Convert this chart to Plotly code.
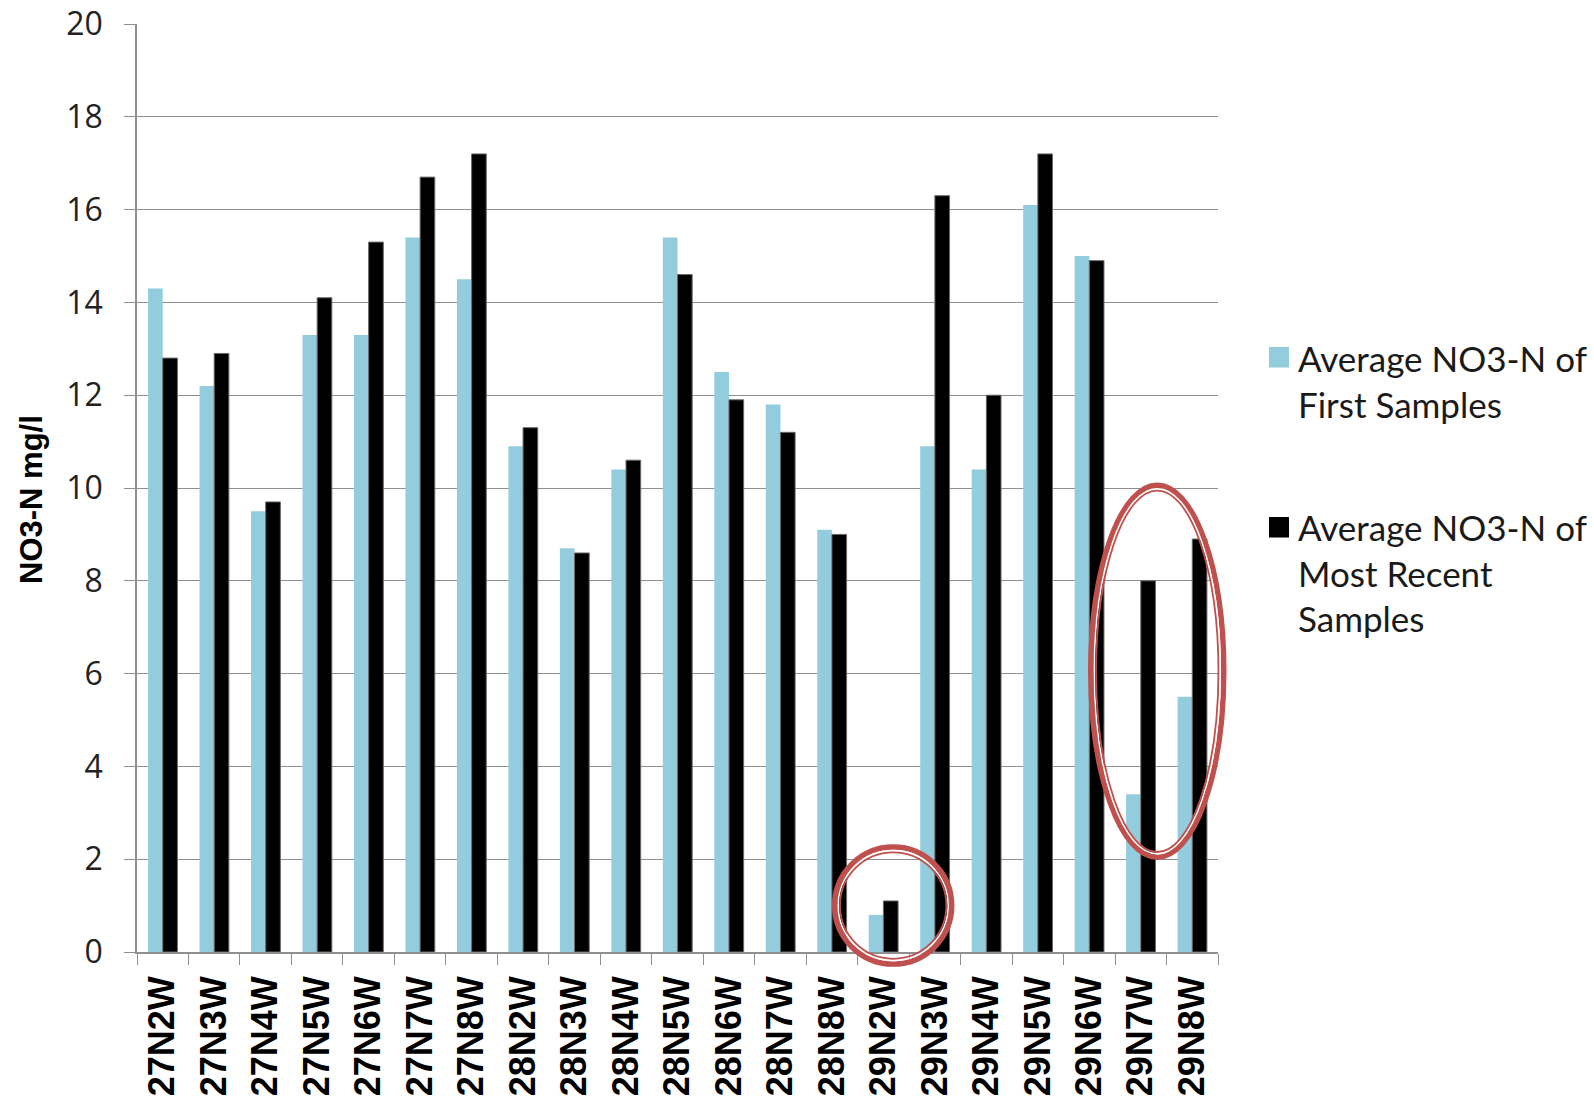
import plotly.graph_objects as go

# Township/range sampling areas
townships = ["27N2W", "27N3W", "27N4W", "27N5W", "27N6W", "27N7W", "27N8W",
             "28N2W", "28N3W", "28N4W", "28N5W", "28N6W", "28N7W", "28N8W",
             "29N2W", "29N3W", "29N4W", "29N5W", "29N6W", "29N7W", "29N8W"]

# Average NO3-N (mg/l)
first_samples = [14.3, 12.2, 9.5, 13.3, 13.3, 15.4, 14.5,
                 10.9, 8.7, 10.4, 15.4, 12.5, 11.8, 9.1,
                 0.8, 10.9, 10.4, 16.1, 15.0, 3.4, 5.5]
recent_samples = [12.8, 12.9, 9.7, 14.1, 15.3, 16.7, 17.2,
                  11.3, 8.6, 10.6, 14.6, 11.9, 11.2, 9.0,
                  1.1, 16.3, 12.0, 17.2, 14.9, 8.0, 8.9]

series_names = ["Average NO3-N of<br>First Samples",
                "Average NO3-N of<br>Most Recent<br>Samples"]

y_ticks = [0, 2, 4, 6, 8, 10, 12, 14, 16, 18, 20]
Y_MAX = 20
Y_TITLE = "NO3-N mg/l"

GRID = "#8f8f8f"
RED = "#c0504d"
LIGHT = "#93cddd"
DARK = "#000000"

N = len(townships)

MARGIN_L, MARGIN_R, MARGIN_T, MARGIN_B = 137, 376, 24, 146
PLOT_W = 1594 - MARGIN_L - MARGIN_R
PLOT_H = 1098 - MARGIN_T - MARGIN_B


def cat_to_paper(idx):
    return (idx + 0.5) / N


def val_to_paper(v):
    return v / Y_MAX


def px_x(px):
    return (px - MARGIN_L) / PLOT_W


def px_y(py):
    return (PLOT_H + MARGIN_T - py) / PLOT_H


fig = go.Figure()
fig.add_trace(go.Bar(
    x=townships, y=first_samples, name=series_names[0],
    marker=dict(color=LIGHT, line=dict(width=0)), showlegend=False,
))
fig.add_trace(go.Bar(
    x=townships, y=recent_samples, name=series_names[1],
    marker=dict(color=DARK, line=dict(width=1, color="#6a6a6a")), showlegend=False,
))

# highlight ellipses: centre (category index, value) and half-size in px
highlights = [
    dict(cx=14.19, cy=1.0, hw=61, hh=61),
    dict(cx=19.32, cy=6.05, hw=69, hh=188.5),
]
rings = [(2.5, RED, 5.5), (6.0, "white", 1.6), (7.8, RED, 1.8)]
for h in highlights:
    for inset, color, width in rings:
        fig.add_shape(
            type="circle", xref="paper", yref="paper",
            xsizemode="pixel", ysizemode="pixel",
            xanchor=cat_to_paper(h["cx"]), yanchor=val_to_paper(h["cy"]),
            x0=-h["hw"] + inset, x1=h["hw"] - inset,
            y0=-h["hh"] + inset, y1=h["hh"] - inset,
            line=dict(color=color, width=width), fillcolor="rgba(0,0,0,0)",
        )

# legend: swatch + label per series
legend_items = [
    dict(color=LIGHT, top=347, mid=380.5),
    dict(color=DARK, top=517, mid=572.5),
]
for name, item in zip(series_names, legend_items):
    y_top = px_y(item["top"])
    fig.add_shape(
        type="rect", xref="paper", yref="paper",
        x0=px_x(1269), x1=px_x(1289),
        y0=y_top - 20.5 / PLOT_H, y1=y_top,
        line=dict(width=0), fillcolor=item["color"],
    )
    fig.add_annotation(
        xref="paper", yref="paper",
        x=px_x(1296), y=px_y(item["mid"]),
        xanchor="left", yanchor="middle", align="left",
        text=name, showarrow=False,
        font=dict(family="Lato", size=35, color="#1a1a1a"),
    )

# y-axis title
fig.add_annotation(
    xref="paper", yref="paper",
    x=px_x(31), y=px_y(500),
    xanchor="center", yanchor="middle",
    text="<b>" + Y_TITLE + "</b>", textangle=-90, showarrow=False,
    font=dict(family="Liberation Sans Narrow, Liberation Sans", size=31, color="#000000"),
)

fig.update_layout(
    width=1594, height=1098,
    margin=dict(l=MARGIN_L, r=MARGIN_R, t=MARGIN_T, b=MARGIN_B),
    plot_bgcolor="white", paper_bgcolor="white",
    barmode="group", bargap=0.43, bargroupgap=0.0,
    showlegend=False,
    xaxis=dict(
        type="category", range=[-0.5, N - 0.5], automargin=False,
        tickangle=-90,
        tickfont=dict(family="Liberation Sans", size=36, color="#000000", weight="bold"),
        showline=True, linecolor=GRID, linewidth=1.5,
        ticks="outside", tickson="boundaries", ticklen=11, tickcolor=GRID,
        showgrid=False,
        ticklabelstandoff=8,
    ),
    yaxis=dict(
        range=[0, Y_MAX], tickvals=y_ticks, automargin=False,
        tickfont=dict(family="Open Sans", size=32, color="#222222"),
        showline=True, linecolor=GRID, linewidth=1.5,
        ticks="outside", ticklen=11, tickcolor=GRID,
        showgrid=True, gridcolor=GRID, gridwidth=1.4,
        zeroline=False,
        ticklabelstandoff=15,
    ),
)

fig.write_html("out.html")
